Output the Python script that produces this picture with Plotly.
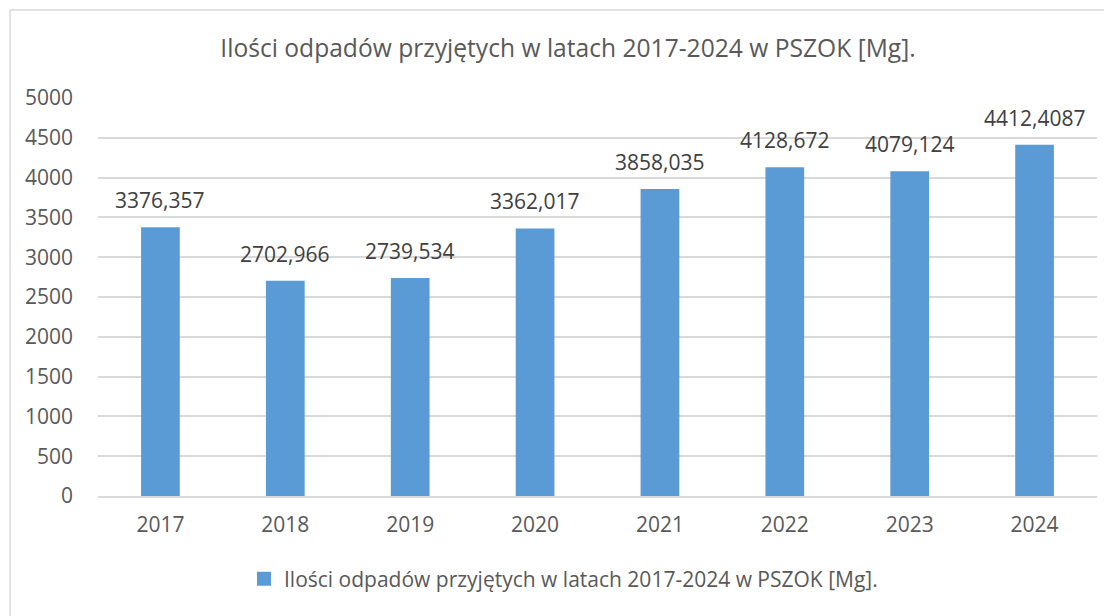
import plotly.graph_objects as go

years = ["2017", "2018", "2019", "2020", "2021", "2022", "2023", "2024"]
values = [3376.357, 2702.966, 2739.534, 3362.017, 3858.035, 4128.672, 4079.124, 4412.4087]
labels = ["3376,357", "2702,966", "2739,534", "3362,017", "3858,035", "4128,672", "4079,124", "4412,4087"]
y_ticks = [0, 500, 1000, 1500, 2000, 2500, 3000, 3500, 4000, 4500, 5000]
series_name = "Ilości odpadów przyjętych w latach 2017-2024 w PSZOK [Mg]."
title_text = "Ilości odpadów przyjętych w latach 2017-2024 w PSZOK [Mg]."

FONT = "Open Sans"
TXT = "#595959"
BAR = "#5B9BD5"

fig = go.Figure()
fig.add_trace(go.Bar(
    x=years, y=values, name=series_name, showlegend=False,
    marker=dict(color=BAR, line=dict(width=0)),
    width=0.31,
))
# legend entry with a larger square swatch
fig.add_trace(go.Scatter(
    x=[years[0]], y=[None], mode="markers", name=series_name,
    marker=dict(symbol="square", size=14, color=BAR), showlegend=True,
))

# page body has an 8px margin, so figure coords are shifted by 8
OFF = 8
W, H = 1112 - OFF, 616 - OFF
L, R, T, B = 98 - OFF, 1097 - OFF, 98 - OFF, 496 - OFF
pw, ph = R - L, B - T

def px(x):
    return (x - OFF - L) / pw

def py(y):
    return (B - (y - OFF)) / ph

# data labels placed at each category (by category index) above its bar value
annotations = [
    dict(x=i, y=v, xref="x", yref="y", text=lab, showarrow=False,
         yanchor="middle", xanchor="center", yshift=27,
         font=dict(family=FONT, size=21, color="#404040"))
    for i, (v, lab) in enumerate(zip(values, labels))
]

fig.update_layout(
    width=W, height=H,
    margin=dict(l=L, r=W - R, t=T, b=H - B, autoexpand=False),
    paper_bgcolor="white", plot_bgcolor="white",
    font=dict(family=FONT, color=TXT),
    title=dict(text=title_text, x=(568 - OFF) / W, xanchor="center", y=1 - (48 - OFF) / H, yanchor="middle",
               font=dict(family=FONT, size=24.6, color=TXT)),
    showlegend=True,
    legend=dict(orientation="h", x=px(244), xanchor="left", y=py(579), yanchor="middle",
                font=dict(family=FONT, size=21, color=TXT)),
    annotations=annotations,
    shapes=[dict(type="rect", xref="paper", yref="paper",
                 x0=px(10), x1=px(1140), y0=py(660), y1=py(10),
                 line=dict(color="#D9D9D9", width=1.5), fillcolor="rgba(0,0,0,0)", layer="below")],
)
fig.update_xaxes(type="category", categoryorder="array", categoryarray=years,
                 range=[-0.5, len(years) - 0.5],
                 showgrid=False, showline=True, linecolor="#D9D9D9", linewidth=2,
                 ticks="", tickfont=dict(family=FONT, size=21, color=TXT), ticklabelstandoff=9)
fig.update_yaxes(range=[0, 5000], tickvals=y_ticks, showgrid=True, gridcolor="#D9D9D9", gridwidth=1.5,
                 zeroline=False, showline=False, ticks="",
                 tickfont=dict(family=FONT, size=21, color=TXT), ticklabelstandoff=24)

fig.write_html("out.html")
